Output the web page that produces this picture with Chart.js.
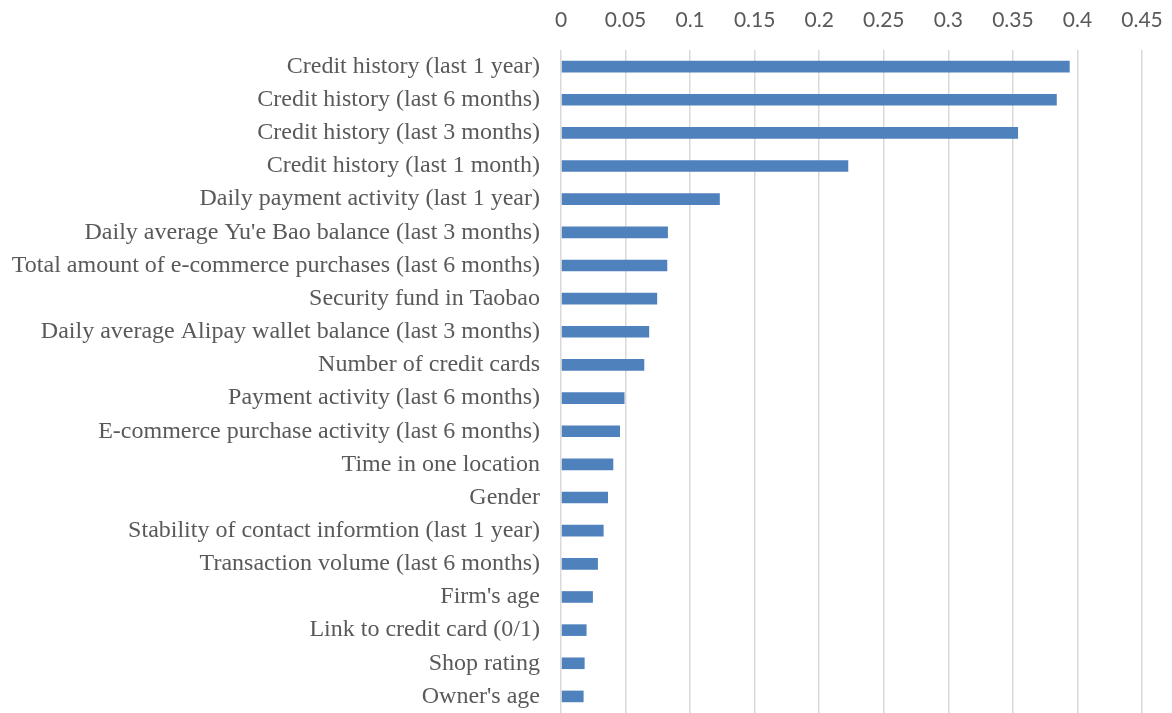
<!DOCTYPE html>
<html>
<head>
<meta charset="utf-8">
<script src="https://cdn.jsdelivr.net/npm/chart.js@4/dist/chart.umd.min.js"></script>
<style>
html,body{margin:0;padding:0;background:#fff;}
#wrap{width:1172px;height:713px;position:relative;}
</style>
</head>
<body>
<div id="wrap"><canvas id="c" width="1172" height="713"></canvas></div>
<script>
const categories = [
  "Credit history (last 1 year)",
  "Credit history (last 6 months)",
  "Credit history (last 3 months)",
  "Credit history (last 1 month)",
  "Daily payment activity (last 1 year)",
  "Daily average Yu'e Bao balance (last 3 months)",
  "Total amount of e-commerce purchases (last 6 months)",
  "Security fund in Taobao",
  "Daily average Alipay wallet balance (last 3 months)",
  "Number of credit cards",
  "Payment activity (last 6 months)",
  "E-commerce purchase activity (last 6 months)",
  "Time in one location",
  "Gender",
  "Stability of contact informtion (last 1 year)",
  "Transaction volume (last 6 months)",
  "Firm's age",
  "Link to credit card (0/1)",
  "Shop rating",
  "Owner's age"
];
const importance = [0.394, 0.384, 0.354, 0.2225, 0.123, 0.0828, 0.0823, 0.0745, 0.0683, 0.0645, 0.0492, 0.0457, 0.0405, 0.0364, 0.033, 0.0286, 0.0247, 0.0198, 0.0183, 0.0175];
const xTicks = [0, 0.05, 0.1, 0.15, 0.2, 0.25, 0.3, 0.35, 0.4, 0.45];

new Chart(document.getElementById('c'), {
  type: 'bar',
  data: {
    labels: categories,
    datasets: [{
      data: importance,
      backgroundColor: '#4F81BD',
      borderWidth: 0,
      categoryPercentage: 1,
      barPercentage: 0.35
    }]
  },
  options: {
    indexAxis: 'y',
    responsive: false,
    animation: false,
    layout: { padding: { left: 0, right: 30, top: 0, bottom: 0 } },
    plugins: { legend: { display: false }, tooltip: { enabled: false } },
    scales: {
      x: {
        position: 'top',
        min: 0, max: 0.45,
        afterBuildTicks: (s) => { s.ticks = xTicks.map(v => ({ value: v })); },
        afterFit: (s) => { s.height = 50; s.paddingLeft = 0; s.paddingRight = 0; },
        border: { display: false },
        grid: { color: '#d9d9d9', lineWidth: 1.5, drawTicks: false },
        ticks: {
          color: '#595959',
          padding: 17,
          font: { family: 'Lato, "Open Sans", sans-serif', size: 21 },
          callback: (v) => String(+v.toFixed(2))
        }
      },
      y: {
        afterFit: (s) => { s.width = 561; s.paddingTop = 0; s.paddingBottom = 0; },
        border: { display: false },
        grid: { display: false, drawTicks: false },
        ticks: {
          color: '#595959',
          padding: 21,
          autoSkip: false,
          font: { family: '"Liberation Serif", "Times New Roman", serif', size: 24 }
        }
      }
    }
  }
});
</script>
</body>
</html>
